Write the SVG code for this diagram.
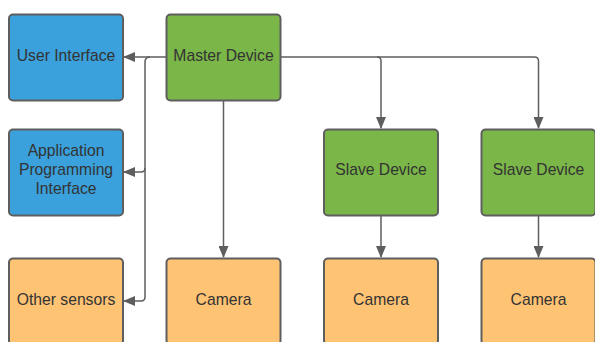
<svg xmlns="http://www.w3.org/2000/svg" width="595" height="342" viewBox="0 0 595 342">
<style>
.box{stroke:#5e5e5e;stroke-width:2}
.blue{fill:#3aa1dc}
.green{fill:#7ab648}
.orange{fill:#ffc374}
text{font-family:"Liberation Sans",Arial,sans-serif;font-size:15.7px;fill:#333333;text-anchor:middle}
.c{fill:none;stroke:#5e5e5e;stroke-width:1.5}
</style>
<defs>
<marker id="ah" viewBox="0 0 12 10" refX="11" refY="5" markerWidth="12" markerHeight="10" markerUnits="userSpaceOnUse" orient="auto">
<path d="M0,0 L12,5 L0,10 Z" fill="#5e5e5e"/>
</marker>
</defs>
<rect width="595" height="342" fill="#ffffff"/>
<g id="connectors">
<path class="c" d="M166,57 H124" marker-end="url(#ah)"/>
<path class="c" d="M150,57 Q145,57 145,62 V168 Q145,172 141,172 H124" marker-end="url(#ah)"/>
<path class="c" d="M145,168 V297 Q145,301 141,301 H124" marker-end="url(#ah)"/>
<path class="c" d="M223.5,100 V257" marker-end="url(#ah)"/>
<path class="c" d="M281,57 H377 Q381,57 381,61 V128" marker-end="url(#ah)"/>
<path class="c" d="M377,57 H534.5 Q538.5,57 538.5,61 V128" marker-end="url(#ah)"/>
<path class="c" d="M381,215 V257" marker-end="url(#ah)"/>
<path class="c" d="M538.5,215 V257" marker-end="url(#ah)"/>
</g>
<g id="user-interface"><rect class="box blue" x="9" y="14.5" width="114" height="86" rx="4"/><text x="66" y="61">User Interface</text></g>
<g id="master-device"><rect class="box green" x="166.5" y="14.5" width="114" height="86" rx="4"/><text x="223.5" y="61">Master Device</text></g>
<g id="api"><rect class="box blue" x="9" y="129.5" width="114" height="86" rx="4"/><text x="66" y="156">Application</text><text x="66" y="175">Programming</text><text x="66" y="194">Interface</text></g>
<g id="slave-device-1"><rect class="box green" x="324" y="129.5" width="114" height="86" rx="4"/><text x="381" y="175">Slave Device</text></g>
<g id="slave-device-2"><rect class="box green" x="481.5" y="129.5" width="114" height="86" rx="4"/><text x="538.5" y="175">Slave Device</text></g>
<g id="other-sensors"><rect class="box orange" x="9" y="258.5" width="114" height="86" rx="4"/><text x="66" y="304.5">Other sensors</text></g>
<g id="camera-1"><rect class="box orange" x="166.5" y="258.5" width="114" height="86" rx="4"/><text x="223.5" y="304.5">Camera</text></g>
<g id="camera-2"><rect class="box orange" x="324" y="258.5" width="114" height="86" rx="4"/><text x="381" y="304.5">Camera</text></g>
<g id="camera-3"><rect class="box orange" x="481.5" y="258.5" width="114" height="86" rx="4"/><text x="538.5" y="304.5">Camera</text></g>
</svg>
